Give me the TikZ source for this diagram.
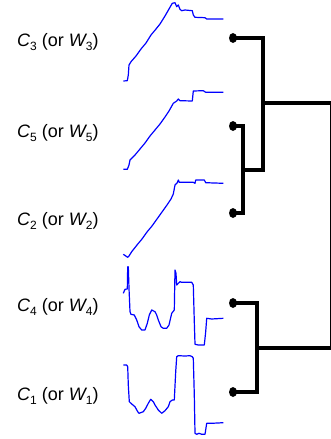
\documentclass[tikz,border=0pt]{standalone}
\usepackage{fontspec}
\setmainfont{Liberation Sans}
\usetikzlibrary{shapes.geometric}
\newcommand{\lbl}[1]{{\itshape C}\raisebox{-0.45ex}{\fontsize{12}{12}\selectfont #1} (or {\itshape W}\raisebox{-0.45ex}{\fontsize{12}{12}\selectfont #1})}
\tikzset{
  lab/.style={anchor=base west, inner sep=0pt, font=\fontsize{18}{20}\selectfont},
  curve/.style={draw={rgb,255:red,0;green,0;blue,255}, line width=1.2pt, line join=round},
  dot/.style={ellipse, fill=black, minimum width=8pt, minimum height=10pt, inner sep=0pt},
  link/.style={line width=4pt, line join=miter},
  thinlink/.style={line width=1pt}
}
\begin{document}
\begin{tikzpicture}[x=1pt,y=-1pt]
\useasboundingbox (0,0) rectangle (331,439);
% labels
\node[lab] (l3) at (17,46.7) {\lbl{3}};
\node[lab] (l5) at (17,137.3) {\lbl{5}};
\node[lab] (l2) at (17,225) {\lbl{2}};
\node[lab] (l4) at (17,311.7) {\lbl{4}};
\node[lab] (l1) at (17,400) {\lbl{1}};
% curves
\draw[curve] plot coordinates {(123.3,81) (127.3,80.7) (128.3,75) (129,65) (131,61.7) (136,56) (141,49) (146,43) (151,35) (156,29) (160,24) (165,16) (169,9) (172.3,3.3) (175,2.7) (176.7,6.7) (178.3,5) (180,9.3) (181.7,10.7) (185,10) (192.3,10.7) (193.3,15) (195,17.3) (205,17.7) (206.7,19) (223.3,19)};
\draw[curve] plot coordinates {(123.3,169.3) (127.3,169.3) (129,165) (130,160) (135,155) (140,149) (145,143) (150,136) (155,130) (160,124) (165,117) (169,111) (173.3,103.3) (176.7,101) (178.3,99) (180,100.7) (192.3,101) (193.3,91) (203.3,90.7) (205.7,92.3) (223.3,92.3)};
\draw[curve] plot coordinates {(123.3,254.3) (127.7,257.3) (129,256) (131.7,251.7) (137,245) (142,239) (147,232) (152,226) (157,219) (162,212) (167,205) (171,199) (173.3,194) (175,185) (177.3,182.7) (178.3,180) (179.3,182.3) (193.3,182.3) (195,183.3) (195.7,180) (204.3,180) (205.7,182.7) (223.3,183.3)};
\draw[curve] plot coordinates {(123.3,293.3) (125,289.3) (127.3,289) (127.7,266.7) (128.3,266.7) (129,288.3) (130,311.7) (131,314.3) (134.3,315) (136.7,320) (139,326.7) (141.7,330) (145,330) (147.3,323.3) (149.3,315) (151.7,310) (155,311.7) (156.7,315) (158.3,320) (161,326.7) (163.3,328.3) (166.7,328.3) (169,325) (171.7,313.3) (174.3,310) (175,270) (176,273.3) (176.7,285) (178.3,283.3) (180,281.7) (181.7,282.3) (191.7,282.3) (193.3,285) (194.3,321.7) (195,344.3) (198.3,345) (204.3,345) (205.7,331.7) (206.7,318.3) (211.7,319) (223.3,318.3)};
\draw[curve] plot coordinates {(123.3,365) (126.7,365) (127.7,366.7) (128.3,385) (129.3,401.7) (131.7,404) (135,406.7) (137.7,411.7) (139,413.3) (143.3,411.7) (145.7,408.3) (148.3,403.3) (150.7,399.3) (153.3,401.7) (155,405) (158.3,410) (161.7,413.3) (165,410.7) (168.3,406.7) (170,401.7) (172.3,400) (174.3,400) (175.7,371.7) (176.7,356.7) (178.3,355.7) (185,356) (190,355.7) (192.3,356.7) (193.3,358.3) (194.3,395) (195,433.3) (196.7,434.3) (199,433.3) (201.7,434.3) (205,434.3) (206.7,423.3) (211.7,423.3) (223.3,422.7)};
% dendrogram
\coordinate (m52) at (243,170);
\coordinate (j352) at (263,170);
\coordinate (m352) at (263,103);
\coordinate (rtop) at (330,103);
\coordinate (m41) at (257,347.5);
\coordinate (rbot) at (330,347.5);
\coordinate (d3c) at (233,38);
\coordinate (d5c) at (233,126);
\coordinate (d2c) at (233,213);
\coordinate (d4c) at (233,303);
\coordinate (d1c) at (233,392);
\draw[link] (d3c) -| (j352) -- (m52);
\draw[link] (d5c) -| (m52) |- (d2c);
\draw[link] (m352) -- (331,103);
\draw[link] (d4c) -| (m41) |- (d1c);
\draw[link] (m41) -- (331,347.5);
\draw[thinlink] (rtop) -- (rbot);
\node[dot] (d3) at (d3c) {};
\node[dot] (d5) at (d5c) {};
\node[dot] (d2) at (d2c) {};
\node[dot] (d4) at (d4c) {};
\node[dot] (d1) at (d1c) {};
\end{tikzpicture}
\end{document}
